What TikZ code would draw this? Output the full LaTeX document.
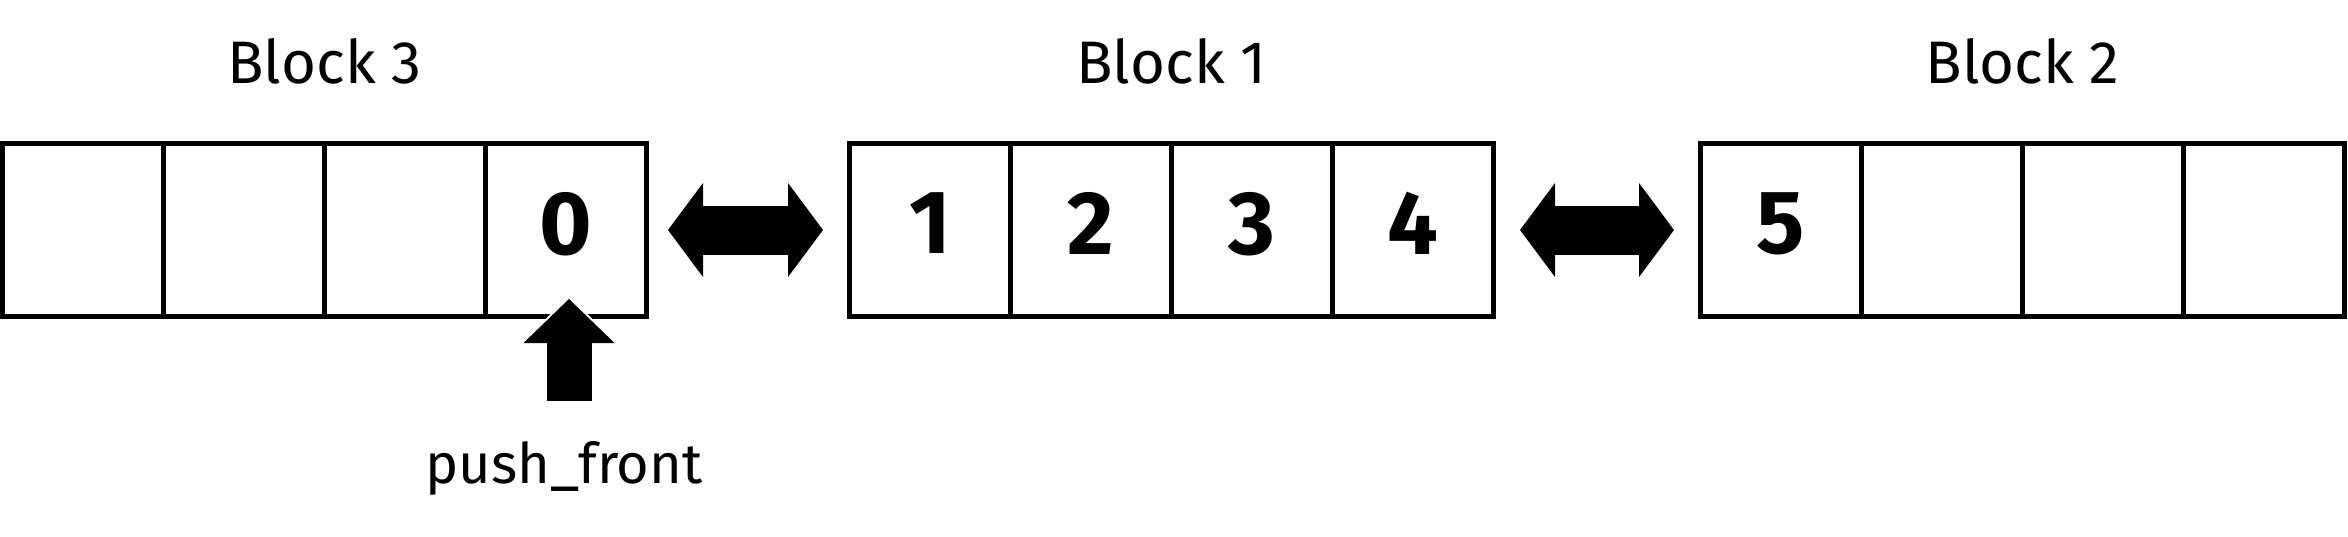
\documentclass[tikz,border=0pt]{standalone}
\usepackage{fontspec}
\setmainfont{Fira Sans}[Numbers=Lining]
\usetikzlibrary{arrows.meta}

\begin{document}
\begin{tikzpicture}[x=0.5pt,y=-0.5pt,
  cell/.style={draw,line width=2.5pt,minimum width=80.5pt,minimum height=86.5pt,
    inner sep=0pt,text depth=7pt,font=\fontsize{45}{45}\selectfont\bfseries},
  blocklabel/.style={anchor=base,font=\fontsize{30}{30}\selectfont},
  link/.style={line width=24.5pt,
    {Triangle[length=17.5pt,width=47pt,line width=0pt]}-{Triangle[length=17.5pt,width=47pt,line width=0pt]},
    shorten <=12pt,shorten >=12pt},
  pusharrow/.style={line width=22.5pt,-{Triangle[length=22pt,width=45.5pt,line width=0pt]}},
  pushhalo/.style={white,line width=25.5pt,-{Triangle[length=25.5pt,width=49.5pt,line width=0pt]},
    shorten <=-1.5pt,shorten >=-2pt}]
\useasboundingbox (0,0) rectangle (2348,536);

% the three blocks
\foreach \i/\t in {1/{},2/{},3/{},4/0}
  \node[cell] (c3\i) at ({-78+161*\i},230) {\t};
\foreach \i/\t in {1/1,2/2,3/3,4/4}
  \node[cell] (c1\i) at ({769+161*\i},230) {\t};
\foreach \i/\t in {1/5,2/{},3/{},4/{}}
  \node[cell] (c2\i) at ({1620+161*\i},230) {\t};

\node[blocklabel] (l3) at (324.5,83) {Block 3};
\node[blocklabel] (l1) at (1171.5,83) {Block 1};
\node[blocklabel] (l2) at (2022.5,83) {Block 2};

% links between blocks
\draw[link,shorten <=9.5pt] (c34.east) -- (c11.west);
\draw[link] (c14.east) -- (c21.west);

% push_front
\coordinate (pushtip) at (569,299);
\coordinate (pushtail) at (569,401);
\draw[pushhalo] (pushtail) -- (pushtip);
\draw[pusharrow] (pushtail) -- (pushtip);
\node[anchor=base,font=\fontsize{28}{28}\selectfont] (pf) at (564,483) {push\_front};

\end{tikzpicture}
\end{document}
